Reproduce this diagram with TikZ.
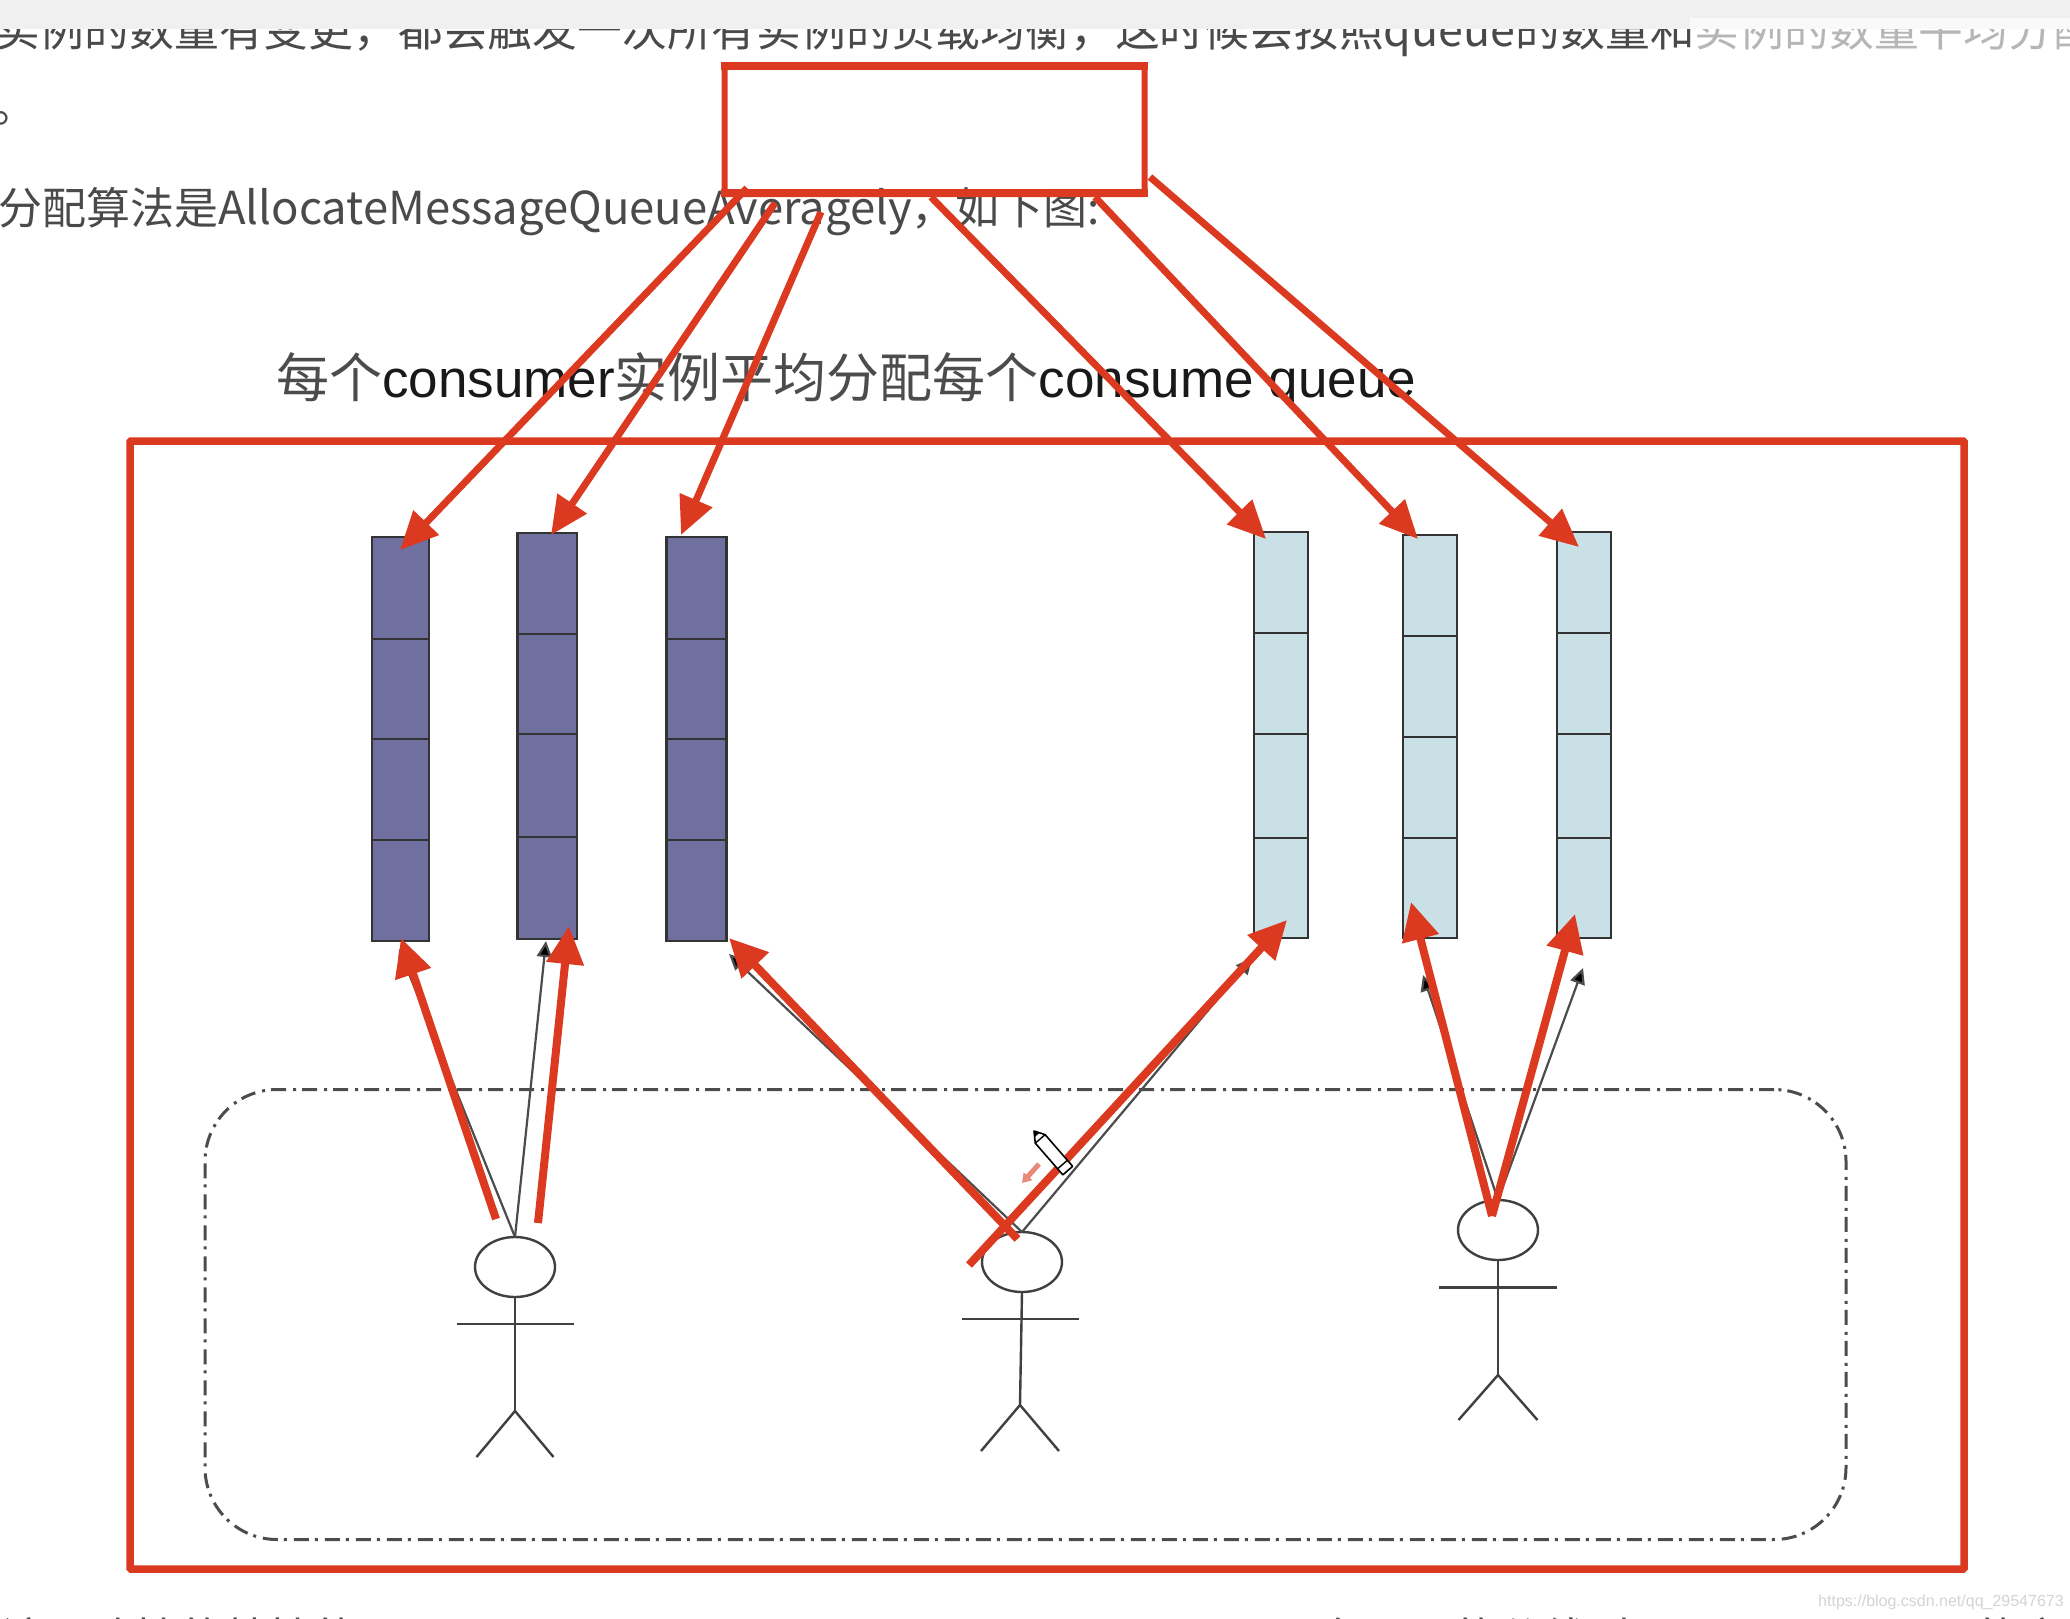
\documentclass[tikz,border=0pt]{standalone}
\usepackage{fontspec}
\setmainfont{Liberation Sans}
\newfontfamily\cjk{Noto Sans CJK SC}
\usetikzlibrary{shapes.geometric,arrows.meta}
\definecolor{redmark}{HTML}{DC3A20}
\definecolor{qdark}{HTML}{6F709F}
\definecolor{qlight}{HTML}{C9E0E6}
\definecolor{bodytext}{HTML}{4A4A4A}
\definecolor{barbg}{HTML}{F0F0F0}
\tikzset{
  qbox/.style={rectangle,draw=black!80,line width=2.6pt,inner sep=0pt,outer sep=0pt},
  headnode/.style={ellipse,draw=black!75,line width=2.4pt,inner sep=0pt,outer sep=0pt,minimum width=80pt,minimum height=60pt},
  limb/.style={draw=black!75,line width=2.4pt},
  thinarrow/.style={draw=black!70,line width=2.2pt,-{Triangle[length=16pt,width=15pt,fill=black]}},
  redarrow/.style={draw=redmark,line width=7pt,-{Triangle[length=38pt,width=34pt]}},
  redarrowb/.style={draw=redmark,line width=8pt,-{Triangle[length=38pt,width=36pt]}},
  redbox/.style={rectangle,draw=redmark,line width=7.5pt,inner sep=0pt,outer sep=0pt,rounded corners=1pt},
  bodyline/.style={anchor=base west,inner sep=0pt,text=bodytext,font=\fontsize{44.8pt}{44.8pt}\cjk},
  titleline/.style={anchor=base west,inner sep=0pt,text=black!90,font=\fontsize{53pt}{53pt}\selectfont}
}
% name, left, right, top, bottom, div1, div2, div3, fill
\newcommand{\qcol}[9]{%
  \pgfmathsetmacro{\qw}{#3-#2}\pgfmathsetmacro{\qh}{#5-#4}%
  \pgfmathsetmacro{\qx}{(#2+#3)/2}\pgfmathsetmacro{\qy}{(#4+#5)/2}%
  \node[qbox,fill=#9,minimum width=\qw pt,minimum height=\qh pt] (#1) at (\qx,\qy) {};
  \draw[black!80,line width=2.6pt] (#2,#6) -- (#3,#6) (#2,#7) -- (#3,#7) (#2,#8) -- (#3,#8);
}
% name, head x, head y, body x, body bottom, arm y, arm half-width, leg dx, leg bottom
\newcommand{\stick}[9]{%
  \node[headnode] (#1) at (#2,#3) {};
  \draw[limb] (#1.south) -- (#4,#5);
  \draw[limb] (#4-#7,#6) -- (#4+#7,#6);
  \draw[limb] (#4-#8,#9) -- (#4,#5) -- (#4+#8,#9);
}
\begin{document}
\begin{tikzpicture}[x=1pt,y=-1pt]
\useasboundingbox (0,0) rectangle (2070,1618);
\fill[white] (0,0) rectangle (2070,1618);
% page text
\node[bodyline] (l1) at (-5,46) {实例的数量有变更，都会触发一次所有实例的负载均衡，这时候会按照queue的数量和实例的数量平均分配};
\node[bodyline] (l2) at (-8,122) {。};
\node[bodyline,font=\fontsize{44pt}{44pt}\cjk] (l3) at (-2,224) {分配算法是{\fontsize{45.4pt}{45.4pt}\selectfont AllocateMessageQueueAveragely}，如下图:};
\fill[barbg] (0,0) rectangle (2070,29);
\fill[white,opacity=.6] (1690,18) rectangle (2070,56);
% title
\node[titleline] (title) at (276,397) {{\cjk\color{black!70}每个}consumer{\cjk\color{black!70}实例平均分配每个}consume queue};
% bottom line fragments
\node[bodyline] (l4) at (0,1655) {该一致性的特性的};
\node[bodyline] (l5) at (1319,1655) {在需要的分线时一};
\node[bodyline] (l6) at (1886,1655) {需要的方};
% watermark
\node[anchor=base west,inner sep=0pt,text=black!17,font=\fontsize{16pt}{16pt}\selectfont] (wm) at (1818,1606) {https://blog.csdn.net/qq\_29547673};
% frames
\node[redbox,line width=6pt,minimum width=420pt,minimum height=129pt] (topbox) at (934.5,129.5) {};
\draw[redmark,line width=8pt] (721,66) -- (1148,66) (721,193) -- (1148,193);
\node[redbox,minimum width=1834pt,minimum height=1128pt] (frame) at (1047,1005) {};
\node[rectangle,draw=black!70,line width=3pt,dash pattern=on 15pt off 6pt on 3pt off 7pt,rounded corners=72pt,inner sep=0pt,minimum width=1641pt,minimum height=450pt] (group) at (1025.5,1314.5) {};
% queues
\qcol{c1}{372}{429}{537}{941}{639}{739}{840}{qdark}
\qcol{c2}{517.5}{577}{533}{939}{634}{734}{837}{qdark}
\qcol{c3}{666.5}{726.5}{537}{941}{639}{739}{840}{qdark}
\qcol{c4}{1254}{1308}{532}{938}{633}{734}{838}{qlight}
\qcol{c5}{1403}{1457}{535}{938}{636}{737}{838}{qlight}
\qcol{c6}{1557}{1611}{532}{938}{633}{734}{838}{qlight}
% consumers
\stick{m1}{515}{1267}{515}{1411}{1324}{58.5}{38.5}{1457}
\stick{m2}{1022}{1262}{1020}{1405}{1319}{58.5}{39}{1451}
\stick{m3}{1498}{1230}{1498}{1375}{1287.5}{59}{39.5}{1420}
% thin arrows
\coordinate (t1) at (399,949);
\coordinate (t2) at (546,941);
\coordinate (t3) at (729,954);
\coordinate (t4) at (1252,958);
\coordinate (t5) at (1423,975);
\coordinate (t6) at (1583,968);
\draw[thinarrow] (m1.north) -- (t1);
\draw[thinarrow] (m1.north) -- (t2);
\draw[thinarrow] (m2.north) -- (t3);
\draw[thinarrow] (m2.north) -- (t4);
\draw[thinarrow] (m3.north) -- (t5);
\draw[thinarrow] (m3.north) -- (t6);
% red arrows, top group
\coordinate (a1) at (747,188); \coordinate (b1) at (400,550);
\coordinate (a2) at (775,203); \coordinate (b2) at (551,535);
\coordinate (a3) at (821,212); \coordinate (b3) at (681,535);
\coordinate (a4) at (931,197); \coordinate (b4) at (1266,539);
\coordinate (a5) at (1095,197); \coordinate (b5) at (1418,539);
\coordinate (a6) at (1150,177); \coordinate (b6) at (1579,547);
\foreach \i in {1,...,6} {\draw[redarrow] (a\i) -- (b\i);}
% red arrows, bottom group
\coordinate (d1) at (496,1219); \coordinate (e1) at (401,938);
\coordinate (d2) at (538,1223); \coordinate (e2) at (569,926);
\coordinate (d3) at (1017.5,1239); \coordinate (e3) at (729,938);
\coordinate (d4) at (969,1265); \coordinate (e4) at (1287,920);
\coordinate (d5) at (1492,1216); \coordinate (e5) at (1411,902);
\coordinate (d6) at (1492,1216); \coordinate (e6) at (1575,914);
\foreach \i in {1,...,6} {\draw[redarrowb] (d\i) -- (e\i);}
% pencil cursor
\begin{scope}[shift={(1034,1131)},rotate=-49]
\draw[black,fill=white,line width=1.6pt,line join=round] (0,0) -- (10,-6) -- (52,-6) -- (52,7) -- (10,7) -- cycle;
\draw[black,line width=1.4pt] (10,-6) -- (10,7) (44,-6) -- (44,7);
\fill[black] (0,0) -- (5,-3) -- (5,3) -- cycle;
\end{scope}
\draw[redmark!60,line width=5pt,-{Triangle[length=9pt,width=11pt]}] (1039,1164) -- (1022,1183);
\end{tikzpicture}
\end{document}
